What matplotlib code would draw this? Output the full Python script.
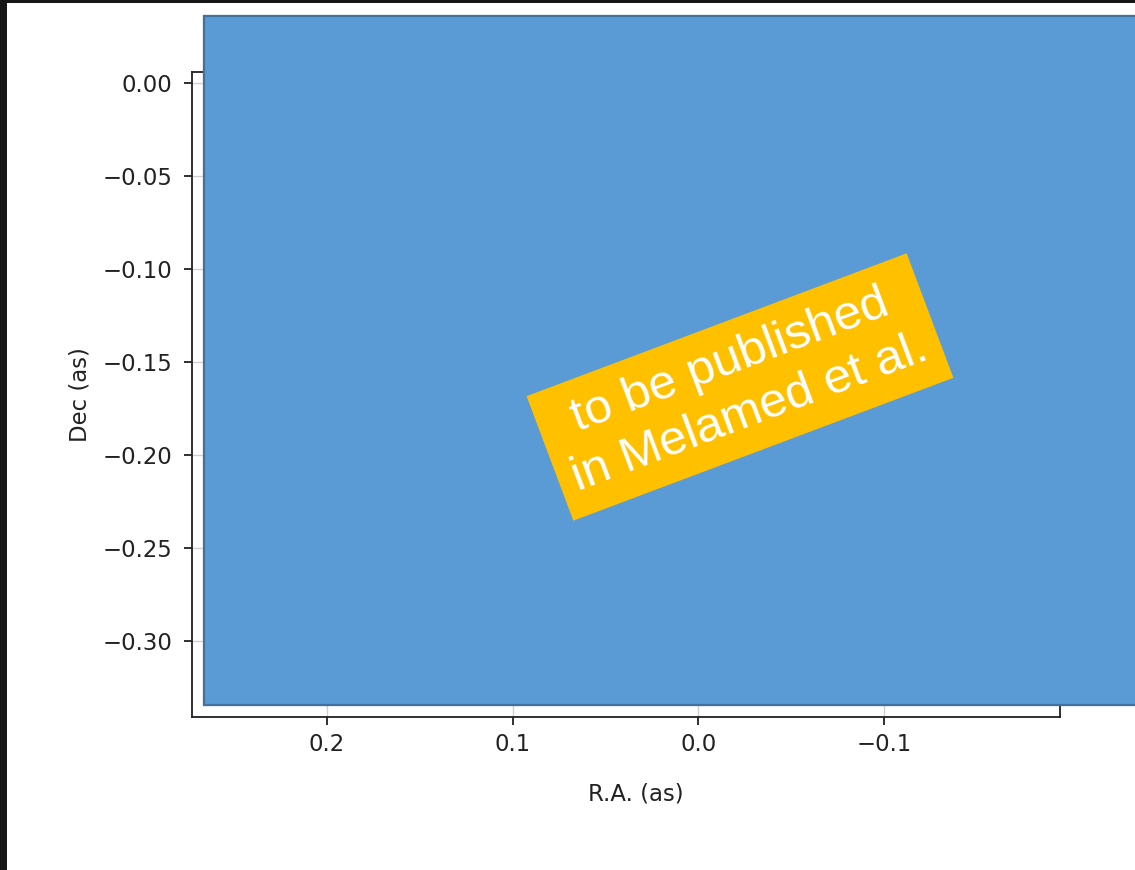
"""Slide snapshot: Dec vs R.A. axes hidden behind a placeholder panel"""

import matplotlib
matplotlib.use("Agg")
import matplotlib.pyplot as plt
import matplotlib.patches as mpatches
import matplotlib.transforms as mtransforms

# canvas (pixels) and render scale
W, H = 1135, 870
DPI = 164

# axis limits and ticks (arcseconds)
ra_lim = [0.2726, -0.1946]
dec_lim = [-0.3409, 0.0059]
ra_ticks = [0.2, 0.1, 0.0, -0.1]
dec_ticks = [0.00, -0.05, -0.10, -0.15, -0.20, -0.25, -0.30]

x_label = "R.A. (as)"
y_label = "Dec (as)"
stamp_text = "to be published\nin Melamed et al."

SLIDE_BG = "#161616"
INK = "#222222"
PANEL_BLUE = "#5B9BD5"
PANEL_EDGE = "#41719C"
STAMP_GOLD = "#FFC000"

fig = plt.figure(figsize=(W / DPI, H / DPI), dpi=DPI)
fig.patch.set_facecolor(SLIDE_BG)

# white plot area of the slide
fig.patches.append(
    mpatches.Rectangle(
        (7 / W, 0), 1 - 7 / W, 1 - 3 / H,
        transform=fig.transFigure, facecolor="white", edgecolor="none", zorder=-1,
    )
)

# axes
ax = fig.add_axes([192 / W, 1 - 717 / H, (1060 - 192) / W, (717 - 72) / H])
ax.set_xlim(ra_lim)
ax.set_ylim(dec_lim)
ax.set_xticks(ra_ticks)
ax.set_yticks(dec_ticks)
ax.set_xticklabels([f"{t:.1f}".replace("-", "\u2212") for t in ra_ticks])
ax.set_yticklabels([f"{t:.2f}".replace("-", "\u2212") for t in dec_ticks])
ax.tick_params(colors=INK, labelcolor=INK)
ax.tick_params(axis="y", pad=5.0)
ax.grid(color="#d0d0d0", linewidth=0.6)
ax.set_axisbelow(True)
for sp in ax.spines.values():
    sp.set_color(INK)

ax.set_xlabel(x_label, color=INK)
ax.xaxis.set_label_coords(0.5115, -0.102)
ax.set_ylabel(y_label, color=INK, labelpad=5)

# pixel space (y up) -> figure
px = mtransforms.Affine2D().scale(1 / W, 1 / H) + fig.transFigure

# blue cover panel
cover = mpatches.Rectangle(
    (204, H - 705), 945, 705 - 16,
    transform=px, facecolor=PANEL_BLUE, edgecolor=PANEL_EDGE, linewidth=1.0,
    zorder=5,
)
fig.patches.append(cover)

# rotated gold stamp
cx, cy = 740, H - 387
ang = 20.6
box_w, box_h = 406, 133
rot = mtransforms.Affine2D().rotate_deg_around(cx, cy, ang) + px
stamp = mpatches.Rectangle(
    (cx - box_w / 2, cy - box_h / 2), box_w, box_h,
    transform=rot, facecolor=STAMP_GOLD, edgecolor="none", zorder=6,
)
fig.patches.append(stamp)

fig.text(
    cx / W, cy / H, stamp_text,
    rotation=ang, rotation_mode="anchor", ha="center", va="center",
    multialignment="center", color="white", family="Liberation Sans",
    fontsize=49.4 * 72 / DPI, linespacing=1.3, zorder=7,
)

fig.savefig("out.png", dpi=DPI, facecolor=fig.get_facecolor())
